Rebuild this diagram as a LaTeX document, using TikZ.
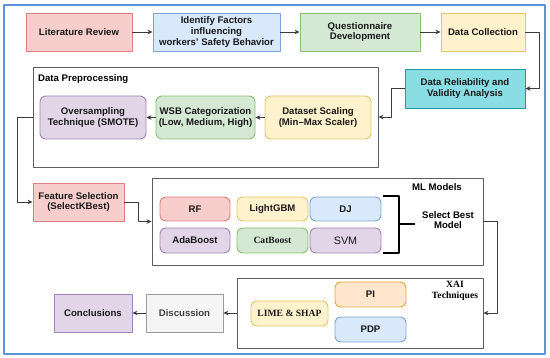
\documentclass[tikz,border=0pt]{standalone}
\usepackage{fontspec}
\setmainfont{Liberation Sans}
\newfontfamily\timesbf{Liberation Serif}
\usepackage{tikz}
\usetikzlibrary{arrows.meta}
\definecolor{redfill}{HTML}{F8CECC}
\definecolor{redline}{HTML}{E0807E}
\definecolor{bluefill}{HTML}{DAE8FC}
\definecolor{blueline}{HTML}{7FA3D4}
\definecolor{greenfill}{HTML}{D5E8D4}
\definecolor{greenline}{HTML}{8CC070}
\definecolor{yellowfill}{HTML}{FFF2CC}
\definecolor{yellowline}{HTML}{E3C668}
\definecolor{purplefill}{HTML}{E1D5E7}
\definecolor{purpleline}{HTML}{A384B5}
\definecolor{orangefill}{HTML}{FFE6CC}
\definecolor{orangeline}{HTML}{E3A838}
\definecolor{cyanfill}{HTML}{8ADDE3}
\definecolor{cyanline}{HTML}{1E9AA3}
\definecolor{greyfill}{HTML}{F5F5F5}
\definecolor{greyline}{HTML}{9A9A9A}
\definecolor{framegray}{HTML}{5E5E5E}
\definecolor{linegray}{HTML}{3A3A3A}
\definecolor{outerblue}{HTML}{5B94DA}
\tikzset{
  every picture/.style={
    line join=round,
    >={Stealth[length=5pt,width=4.5pt]},   % small filled heads
  },
  box/.style={draw, line width=0.9pt, align=center, inner sep=2pt,
    font=\fontsize{9.6}{10.8}\selectfont\bfseries, text=black!90},
  rbox/.style={box, rounded corners=6pt},
  pinkbox/.style={fill=redfill, draw=redline},
  bluebox/.style={fill=bluefill, draw=blueline},
  greenbox/.style={fill=greenfill, draw=greenline},
  yellowbox/.style={fill=yellowfill, draw=yellowline},
  purplebox/.style={fill=purplefill, draw=purpleline},
  orangebox/.style={fill=orangefill, draw=orangeline},
  group/.style={draw=framegray, line width=0.9pt, inner sep=0pt},
  grouptitle/.style={font=\fontsize{9.6}{10.8}\selectfont\bfseries, inner sep=0pt},
  arr/.style={->, draw=linegray, line width=0.9pt},
}

\begin{document}
\begin{tikzpicture}[x=1pt,y=-1pt]
    \useasboundingbox (0,0) rectangle (550,358);
    \draw[outerblue, line width=1.2pt] (4,5) rectangle (545,354);

    % Top row
    \node[box, pinkbox, minimum width=106pt, minimum height=38pt] (lit) at (79,32) {Literature Review};
    \node[box, bluebox, minimum width=127pt, minimum height=38pt] (ident) at (216.5,32) {Identify Factors\\influencing\\workers' Safety Behavior};
    \node[box, greenbox, minimum width=120pt, minimum height=38pt] (quest) at (360,32) {Questionnaire\\Development};
    \node[box, yellowbox, minimum width=84pt, minimum height=38pt] (collect) at (483,32) {Data Collection};
    \node[box, fill=cyanfill, draw=cyanline, minimum width=120pt, minimum height=39pt] (reliab) at (465,88.5) {Data Reliability and\\Validity Analysis};

    % Data Preprocessing
    \node[group, minimum width=345pt, minimum height=100pt] (prep) at (205.5,117) {};
    \node[grouptitle, anchor=west] (preptitle) at (38,79) {Data Preprocessing};
    \node[rbox, yellowbox, minimum width=106pt, minimum height=43pt] (scaling) at (318,117.5) {Dataset Scaling\\(Min--Max Scaler)};
    \node[rbox, greenbox, minimum width=99pt, minimum height=43pt] (wsb) at (205.5,117.5) {WSB Categorization\\(Low, Medium, High)};
    \node[rbox, purplebox, minimum width=106pt, minimum height=43pt] (smote) at (93,117.5) {Oversampling\\Technique (SMOTE)};

    \node[box, pinkbox, minimum width=91pt, minimum height=38pt] (feat) at (78.5,202) {Feature Selection\\(SelectKBest)};

    % ML Models
    \node[group, minimum width=331pt, minimum height=87pt] (ml) at (317.5,221.5) {};
    \node[grouptitle] (mltitle) at (437,187) {ML Models};
    \node[rbox, pinkbox, minimum width=70pt, minimum height=24pt] (rf) at (195,209) {RF};
    \node[rbox, yellowbox, minimum width=71pt, minimum height=24pt] (lgbm) at (272.5,209) {LightGBM};
    \node[rbox, bluebox, minimum width=71pt, minimum height=24pt] (dj) at (345.5,209) {DJ};
    \node[rbox, purplebox, minimum width=70pt, minimum height=25pt] (ada) at (195,240.5) {AdaBoost};
    \node[rbox, greenbox, minimum width=71pt, minimum height=25pt, font=\fontsize{9.6}{10.8}\timesbf\bfseries] (cat) at (272.5,240.5) {CatBoost};
    \node[rbox, purplebox, minimum width=71pt, minimum height=25pt, font=\fontsize{10.8}{12}\selectfont] (svm) at (345.5,240.5) {SVM};
    \node[grouptitle, align=center] (select) at (448,220) {Select Best\\Model};
    \draw[black, line width=1.4pt] (383,196) -- (399,196) -- (399,253) -- (383,253);
    \draw[black, line width=1.4pt] (399,224) -- ++(16,0);

    % XAI Techniques
    \node[group, minimum width=246pt, minimum height=70pt] (xai) at (360,313) {};
    \node[grouptitle, align=center, font=\fontsize{9.6}{10.8}\timesbf\bfseries] (xaititle) at (455,290.5) {XAI\\Techniques};
    \node[rbox, yellowbox, minimum width=77pt, minimum height=25pt, font=\fontsize{9.6}{10.8}\timesbf\bfseries] (lime) at (289.5,313.5) {LIME \& SHAP};
    \node[rbox, orangebox, minimum width=71pt, minimum height=25pt] (pi) at (370.5,294.5) {PI};
    \node[rbox, bluebox, minimum width=71pt, minimum height=25pt] (pdp) at (370.5,329.5) {PDP};

    % Last row
    \node[box, fill=greyfill, draw=greyline, text=black!75, minimum width=77pt, minimum height=38pt] (disc) at (184.5,313) {Discussion};
    \node[box, purplebox, minimum width=78pt, minimum height=38pt] (concl) at (93,313) {Conclusions};

    % Connectors
    \draw[arr] (lit) -- (ident);
    \draw[arr] (ident) -- (quest);
    \draw[arr] (quest) -- (collect);
    \draw[arr] (collect.east) -- ++(14,0) |- (reliab.east);
    \draw[arr] (reliab.west) -- ++(-13,0) |- (prep.east);
    \draw[arr] (scaling) -- (wsb);
    \draw[arr] (wsb) -- (smote);
    \draw[arr] (prep.west) -- ++(-15,0) |- (feat.west);
    \draw[arr] (feat.east) -- ++(14,0) |- (ml.west);
    \draw[arr] (ml.east) -- ++(14,0) |- (xai.east);
    \draw[arr] (xai.west) -- (disc.east);
    \draw[arr] (disc) -- (concl);
\end{tikzpicture}
\end{document}
